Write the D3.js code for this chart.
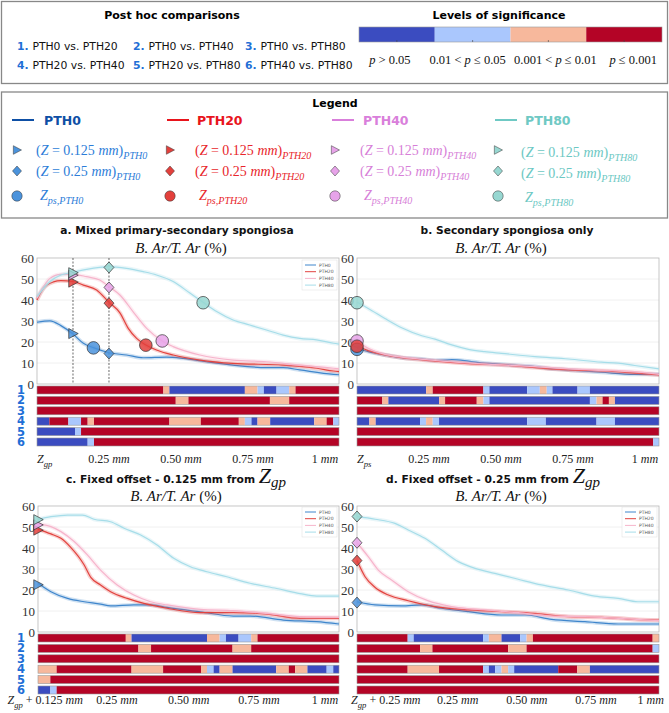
<!DOCTYPE html>
<html><head><meta charset="utf-8">
<script src="https://cdnjs.cloudflare.com/ajax/libs/d3/7.8.5/d3.min.js"></script>
<style>body{margin:0;background:#fff} text{white-space:pre}</style>
</head><body>
<script>
// groups and colours
var groups = ["PTH0","PTH20","PTH40","PTH80"];
var lineColors = ["#3f86cc","#e2433f","#f6b4cb","#a6dde9"];
var markColors = ["#4b93dc","#e3403c","#e7a3e9","#97d7d1"];
var keyColors = ["#0e4fa5","#e8141c","#d97fdb","#6fc9c4"];
var keyTextColors = ["#2c7dd8","#e8262b","#d77fd8","#6cc8c3"];

var comparisons = ["PTH0 vs. PTH20","PTH0 vs. PTH40","PTH0 vs. PTH80","PTH20 vs. PTH40","PTH20 vs. PTH80","PTH40 vs. PTH80"];
var sigLabels = ["p > 0.05","0.01 < p ≤ 0.05","0.001 < p ≤ 0.01","p ≤ 0.001"];
var sigColors = ["#3b4cc0","#aac7fd","#f7b89c","#b40426"];
var yTicks = [0,10,20,30,40,50,60];

// x tick values (mm) and labels per panel
var ticksA = [0,0.25,0.5,0.75,1], labelsA = ["Z_gp","0.25 mm","0.50 mm","0.75 mm","1 mm"];
var ticksB = [0,0.25,0.5,0.75,1], labelsB = ["Z_ps","0.25 mm","0.50 mm","0.75 mm","1 mm"];
var ticksC = [0.025,0.275,0.525,0.77,1.0], labelsC = ["Z_gp + 0.125 mm","0.25 mm","0.50 mm","0.75 mm","1 mm"];
var ticksD = [0.1,0.35,0.59,0.83,1.02], labelsD = ["Z_gp + 0.25 mm","0.25 mm","0.50 mm","0.75 mm","1 mm"];

// B.Ar/T.Ar (%) vs depth (mm)
var a_PTH0 = [[0,29.4],[0.045,30.1],[0.083,27.8],[0.125,23.8],[0.161,19.4],[0.196,17.3],[0.25,14.9],[0.311,13.8],[0.369,12.5],[0.45,12.8],[0.508,12.2],[0.589,10.6],[0.681,9.0],[0.797,7.8],[0.855,7.8],[0.913,6.7],[1.03,4.6],[1.049,4.4]];
var a_PTH20 = [[0,40],[0.023,45.6],[0.057,48.6],[0.083,49.2],[0.125,48.8],[0.161,47.1],[0.207,44.8],[0.25,38.9],[0.288,33.9],[0.317,26.5],[0.346,21.7],[0.378,18.6],[0.415,16.2],[0.473,13.8],[0.566,11.4],[0.681,9.8],[0.855,9.0],[0.971,7.5],[1.03,6.2],[1.049,5.9]];
var a_PTH40 = [[0,40.8],[0.045,50.3],[0.083,52.2],[0.125,52.2],[0.172,51.1],[0.218,49.5],[0.25,46.4],[0.288,42.4],[0.334,34.4],[0.381,26.5],[0.435,20.5],[0.473,17.8],[0.566,13.8],[0.681,11.4],[0.797,10.6],[0.913,9.0],[1.03,7.5],[1.049,7.2]];
var a_PTH80 = [[0,41.6],[0.045,48.8],[0.083,51.9],[0.125,53.2],[0.172,54.6],[0.25,55.9],[0.311,55.1],[0.369,53.5],[0.415,51.9],[0.473,48.8],[0.531,43.3],[0.577,38.9],[0.624,34.5],[0.681,30.5],[0.739,28.1],[0.797,25.7],[0.855,23.3],[0.913,21.7],[0.971,21.0],[1.03,19.4],[1.049,19.0]];

var b_PTH0 = [[0,16.9],[0.039,15.4],[0.097,13.8],[0.155,12.5],[0.225,11.9],[0.271,11.2],[0.329,11.6],[0.387,10.9],[0.444,9.9],[0.502,9.4],[0.56,8.8],[0.618,8.3],[0.676,7.2],[0.734,6.7],[0.849,5.6],[0.965,4.6],[1.049,4.6]];
var b_PTH20 = [[0,18.1],[0.039,15.9],[0.097,13.8],[0.155,12.5],[0.271,10.9],[0.387,9.7],[0.502,9.1],[0.618,7.8],[0.734,6.7],[0.849,6.2],[0.965,5.2],[1.049,4.3]];
var b_PTH40 = [[0,20.5],[0.039,17.0],[0.097,14.1],[0.155,12.8],[0.271,11.2],[0.387,10.0],[0.502,9.1],[0.618,8.3],[0.734,7.2],[0.849,6.5],[0.965,5.9],[1.049,4.6]];
var b_PTH80 = [[0,38.9],[0.039,36.0],[0.097,31.2],[0.155,26.8],[0.225,23.0],[0.271,21.4],[0.329,18.6],[0.387,16.5],[0.444,15.4],[0.502,14.6],[0.618,13.0],[0.734,11.9],[0.849,10.4],[0.907,9.9],[0.965,8.8],[1.049,7.2]];

var c_PTH0 = [[0,23.2],[0.045,19.2],[0.103,16.0],[0.161,14.4],[0.218,13.3],[0.253,12.4],[0.334,12.9],[0.392,12.9],[0.45,11.7],[0.566,9.6],[0.681,7.6],[0.739,7.6],[0.855,5.7],[0.971,4.9],[1.049,3.8]];
var c_PTH20 = [[0,48.9],[0.045,46.7],[0.08,44.6],[0.114,40.3],[0.161,31.9],[0.184,26.0],[0.218,22.4],[0.253,19.2],[0.311,16.0],[0.369,13.6],[0.45,11.3],[0.566,9.2],[0.681,9.2],[0.797,8.5],[0.913,6.5],[1.049,6.5]];
var c_PTH40 = [[0,51.4],[0.045,50.2],[0.08,47.8],[0.126,43.1],[0.172,36.7],[0.218,29.5],[0.276,22.4],[0.334,17.6],[0.392,14.4],[0.45,12.9],[0.566,10.8],[0.681,10.2],[0.797,8.9],[0.913,7.3],[1.049,7.0]];
var c_PTH80 = [[0,53.7],[0.045,54.9],[0.103,55.7],[0.155,55.7],[0.195,53.7],[0.253,52.5],[0.3,49.4],[0.358,46.2],[0.415,41.4],[0.473,35.1],[0.531,31.1],[0.589,28.7],[0.658,26.3],[0.739,23.2],[0.832,20.7],[0.913,18.3],[0.971,17.1],[1.049,17.1]];

var d_PTH0 = [[0,14.4],[0.063,12.9],[0.155,12.4],[0.225,12.9],[0.294,11.3],[0.387,9.7],[0.502,8.1],[0.583,8.1],[0.676,6.0],[0.792,4.9],[0.907,3.8],[1.049,3.8]];
var d_PTH20 = [[0,34],[0.028,26.3],[0.063,21.2],[0.109,17.6],[0.178,14.9],[0.271,12.1],[0.387,10.5],[0.502,9.7],[0.618,8.9],[0.734,7.3],[0.849,7.0],[0.965,6.0],[1.049,5.7]];
var d_PTH40 = [[0,42.5],[0.039,35.9],[0.074,29.5],[0.12,24.8],[0.178,19.2],[0.248,14.8],[0.329,12.1],[0.444,10.5],[0.56,9.2],[0.676,7.6],[0.792,7.3],[0.907,6.5],[1.049,5.4]];
var d_PTH80 = [[0,54.9],[0.063,53.7],[0.132,51.7],[0.178,48.6],[0.236,44.6],[0.294,39.0],[0.352,33.5],[0.41,30.3],[0.479,27.9],[0.56,25.1],[0.641,22.4],[0.734,20.0],[0.826,17.1],[0.907,16.0],[0.976,14.4],[1.049,14.4]];

// markers: [x mm, y %] per group
var a_tri = [[0.125,24],[0.125,48.5],[0.125,51.8],[0.125,53]];
var a_dia = [[0.25,14.5],[0.25,38.5],[0.25,46],[0.25,55.5]];
var a_circ = [[0.196,17.2],[0.378,18.5],[0.435,20.5],[0.577,38.7]];
var b_circ = [[0,16.5],[0,18],[0,20.5],[0,38.7]];
var c_tri = [[0,22.5],[0,48.5],[0,51],[0,53.5]];
var d_dia = [[0,14],[0,34],[0,42.5],[0,55]];

// significance rows: [start mm, level]
var sigA = [
 [[0,3],[0.439,2],[0.460,0],[0.722,2],[0.766,1],[0.788,0],[0.832,1],[0.876,2],[0.898,3]],
 [[0,3],[0.482,2],[0.526,3],[0.809,2],[0.876,3]],
 [[0,3]],
 [[0,0],[0.043,3],[0.109,1],[0.153,3],[0.176,2],[0.198,3],[0.460,2],[0.569,3],[0.701,2],[0.722,1],[0.745,0],[0.766,2],[0.810,0],[0.963,2],[1.006,3],[1.029,1]],
 [[0,0],[0.132,1],[0.153,3]],
 [[0,0],[0.176,1],[0.198,3]]
];
var sigB = [
 [[0,0],[0.240,2],[0.263,3],[0.439,1],[0.460,0],[0.591,1],[0.635,2],[0.659,1],[0.679,0],[0.766,1],[0.809,0]],
 [[0,3],[0.088,2],[0.109,0],[0.285,2],[0.306,3],[0.416,2],[0.439,1],[0.460,0],[0.809,1],[0.832,2],[0.853,3],[0.875,2],[0.896,0]],
 [[0,3]],
 [[0,0],[0.043,2],[0.065,0],[0.219,1],[0.240,2],[0.263,1],[0.285,0],[0.591,1],[0.656,0],[0.832,1],[0.896,0]],
 [[0,3]],
 [[0,3],[1.029,1]]
];
var sigC = [
 [[0,3],[0.306,2],[0.326,0],[0.589,2],[0.633,1],[0.655,0],[0.699,1],[0.743,2],[0.765,3]],
 [[0,3],[0.350,2],[0.394,3],[0.678,2],[0.743,3]],
 [[0,3]],
 [[0,2],[0.065,3],[0.326,2],[0.436,3],[0.568,2],[0.589,1],[0.612,0],[0.633,2],[0.678,0],[0.830,2],[0.874,3],[0.896,2],[0.939,0],[1.006,1],[1.029,0]],
 [[0,2],[0.043,3]],
 [[0,0],[0.043,1],[0.065,3]]
];
var sigD = [
 [[0,3],[0.176,1],[0.197,0],[0.438,1],[0.458,2],[0.502,0],[0.567,1],[0.589,2],[0.611,3],[1.027,2]],
 [[0,3],[0.219,2],[0.262,3],[0.525,2],[0.589,3],[1.027,1]],
 [[0,3]],
 [[0,3],[0.176,2],[0.285,3],[0.438,1],[0.458,0],[0.480,1],[0.502,2],[0.525,1],[0.546,0],[0.699,3],[0.765,2],[0.809,0]],
 [[0,3]],
 [[0,3]]
];

var SANS = "'DejaVu Sans', Verdana, sans-serif";
var SERIF = "'Liberation Serif', 'Times New Roman', serif";
var svg = d3.select("body").append("svg").attr("width",669).attr("height",713);

// text with italic / subscript pieces
function mathText(g, parts, size, x, y, anchor, color) {
  var t = g.append("text").attr("x",x).attr("y",y).attr("font-family",SERIF)
    .attr("font-size",size).attr("text-anchor",anchor||"start").attr("fill",color||"#222");
  var shift = 0;
  parts.forEach(function(p){
    var sp = t.append("tspan").text(p[0]);
    var target = p[1]=="s" ? size*0.3 : 0;
    if (target != shift) sp.attr("dy", target-shift);
    shift = target;
    if (p[1] != "n") sp.attr("font-style","italic");
    if (p[1] == "s") sp.attr("font-size", size*0.72);
  });
  return t;
}
function parseMath(str) {
  var parts = [];
  str.split(" ").forEach(function(tok,i){
    var s = i>0 ? " " : "";
    var m = tok.match(/^Z_(.+)$/);
    if (m) { parts.push([s+"Z","i"]); parts.push([m[1],"s"]); }
    else if (tok=="mm" || tok=="p") parts.push([s+tok,"i"]);
    else parts.push([s+tok,"n"]);
  });
  return parts;
}

// marker shapes; s = half size in px
function marker(g, type, x, y, s, fill) {
  var d;
  if (type=="tri") d = "M"+(-s*0.85)+","+(-s)+"L"+(s*1.05)+",0L"+(-s*0.85)+","+s+"Z";
  else if (type=="dia") d = "M0,"+(-s)+"L"+(s*0.9)+",0L0,"+s+"L"+(-s*0.9)+",0Z";
  else d = d3.arc()({innerRadius:0,outerRadius:s,startAngle:0,endAngle:2*Math.PI});
  return g.append("path").attr("d",d).attr("transform","translate("+x+","+y+")")
    .attr("fill",fill).attr("stroke","#333").attr("stroke-width",0.7);
}

// ---------- top box: comparisons + significance scale
svg.append("rect").attr("x",1.5).attr("y",1.5).attr("width",666).attr("height",82)
  .attr("fill","none").attr("stroke","#888").attr("stroke-width",1.3);
svg.append("text").attr("x",172).attr("y",19).attr("text-anchor","middle").attr("font-family",SANS)
  .attr("font-weight","bold").attr("font-size",11).text("Post hoc comparisons");
var compX = [17,133,245];
comparisons.forEach(function(c,i){
  var x = compX[i%3], y = i<3 ? 49.5 : 68.5;
  var t = svg.append("text").attr("x",x).attr("y",y).attr("font-family",SANS).attr("font-size",10.8);
  t.append("tspan").attr("font-weight","bold").attr("fill","#1f6fd6").text((i+1)+". ");
  t.append("tspan").attr("fill","#111").text(c);
});
svg.append("text").attr("x",499).attr("y",19).attr("text-anchor","middle").attr("font-family",SANS)
  .attr("font-weight","bold").attr("font-size",11).text("Levels of significance");
var cb = d3.scaleBand().domain(sigLabels).range([359,662]);
svg.selectAll(".cb").data(sigLabels).enter().append("rect")
  .attr("x",function(d){return cb(d);}).attr("y",27).attr("width",cb.bandwidth()).attr("height",15)
  .attr("fill",function(d,i){return sigColors[i];});
svg.append("rect").attr("x",359).attr("y",27).attr("width",303).attr("height",15)
  .attr("fill","none").attr("stroke","#999").attr("stroke-width",0.6);
var cbShift = [-7,-5,7,9];
sigLabels.forEach(function(s,i){
  var cx = cb(s)+cb.bandwidth()/2;
  svg.append("line").attr("x1",cx).attr("x2",cx).attr("y1",40).attr("y2",42).attr("stroke","#444").attr("stroke-width",0.6);
  mathText(svg, parseMath(s), 12.5, cx+cbShift[i], 64, "middle", "#111");
});

// ---------- legend box
svg.append("rect").attr("x",1.5).attr("y",92).attr("width",666).attr("height",126)
  .attr("fill","none").attr("stroke","#888").attr("stroke-width",1.3);
svg.append("text").attr("x",335).attr("y",107).attr("text-anchor","middle").attr("font-family",SANS)
  .attr("font-weight","bold").attr("font-size",11).text("Legend");
var keyLineX = [12,167,332,495], keyTitleX = [44,197,363,525];
var keyMarkX = [17,170,335,498], keyTextX = [36,195,360,521];
groups.forEach(function(g,i){
  svg.append("line").attr("x1",keyLineX[i]).attr("x2",keyLineX[i]+22).attr("y1",120).attr("y2",120)
    .attr("stroke",keyColors[i]).attr("stroke-width",2);
  svg.append("text").attr("x",keyTitleX[i]).attr("y",124.5).attr("font-family",SANS).attr("font-weight","bold")
    .attr("font-size",12.5).attr("fill",keyColors[i]).text(g);
  var dy = i==3 ? 2 : 0;
  marker(svg,"tri",keyMarkX[i],150,4.3,markColors[i]).attr("stroke-width",0.5);
  marker(svg,"dia",keyMarkX[i],171,5,markColors[i]).attr("stroke-width",0.5);
  marker(svg,"circ",keyMarkX[i],196,5.2,markColors[i]).attr("stroke-width",0.5);
  mathText(svg,[["(","n"],["Z","i"],[" = 0.125 ","n"],["mm","i"],[")","n"],[g,"s"]],14,keyTextX[i],154.5+dy,"start",keyTextColors[i]);
  mathText(svg,[["(","n"],["Z","i"],[" = 0.25 ","n"],["mm","i"],[")","n"],[g,"s"]],14,keyTextX[i],176+dy,"start",keyTextColors[i]);
  mathText(svg,[["Z","i"],["ps,"+g,"s"]],14,keyTextX[i]+4,200+dy,"start",keyTextColors[i]);
});

// ---------- panels
var panels = [
 {x0:37, x1:339, y0:258, y1:384, bar0:386, labY:463, titleX:177, titleY:234, subX:181, subY:253,
  title:"a. Mixed primary-secondary spongiosa", series:[a_PTH0,a_PTH20,a_PTH40,a_PTH80],
  marks:[["tri",a_tri],["dia",a_dia],["circ",a_circ]], sig:sigA, ticks:ticksA, labels:labelsA, first:"start",
  legend:[302,260], dashes:[0.125,0.25], nums:true},
 {x0:357, x1:659, y0:258, y1:384, bar0:386, labY:463, titleX:507, titleY:234, subX:501, subY:253,
  title:"b. Secondary spongiosa only", series:[b_PTH0,b_PTH20,b_PTH40,b_PTH80],
  marks:[["circ",[b_circ[3],b_circ[2],b_circ[0],b_circ[1]],[3,2,0,1]]], sig:sigB, ticks:ticksB, labels:labelsB, first:"start",
  legend:null, dashes:[], nums:false},
 {x0:38, x1:339, y0:506, y1:632, bar0:634, labY:704, titleX:176, titleY:483, subX:176, subY:501,
  title:"c. Fixed offset - 0.125 mm from ", series:[c_PTH0,c_PTH20,c_PTH40,c_PTH80],
  marks:[["tri",c_tri]], sig:sigC, ticks:ticksC, labels:labelsC, first:"middle",
  legend:[302,507], dashes:[], nums:true},
 {x0:357, x1:659, y0:506, y1:632, bar0:634, labY:704, titleX:493, titleY:483, subX:501, subY:501,
  title:"d. Fixed offset - 0.25 mm from ", series:[d_PTH0,d_PTH20,d_PTH40,d_PTH80],
  marks:[["dia",d_dia]], sig:sigD, ticks:ticksD, labels:labelsD, first:"middle",
  legend:[622,507], dashes:[], nums:false}
];

panels.forEach(function(p){
  var g = svg.append("g");
  var x = d3.scaleLinear().domain([0,1.049]).range([p.x0,p.x1]);
  var y = d3.scaleLinear().domain([0,60]).range([p.y1,p.y0]);

  // titles
  var tt = g.append("text").attr("x",p.titleX).attr("y",p.titleY).attr("text-anchor","middle")
    .attr("font-family",SANS).attr("font-weight","bold").attr("font-size",10.7).attr("fill","#111");
  tt.append("tspan").text(p.title);
  if (p.title.indexOf("from") > 0) {
    tt.append("tspan").attr("font-family",SERIF).attr("font-style","italic").attr("font-weight","normal")
      .attr("font-size",22).text("Z");
    tt.append("tspan").attr("font-family",SERIF).attr("font-style","italic").attr("font-weight","normal")
      .attr("font-size",15).attr("dy",4).text("gp");
  }
  mathText(g,[["B. Ar/T. Ar ","i"],["(%)","n"]],15,p.subX,p.subY,"middle","#111");

  // grid + frame
  g.selectAll(".grid").data(yTicks.slice(1,6)).enter().append("line")
    .attr("x1",p.x0).attr("x2",p.x1).attr("y1",y).attr("y2",y).attr("stroke","#ececec").attr("stroke-width",0.8);
  g.append("rect").attr("x",p.x0).attr("y",p.y0).attr("width",p.x1-p.x0).attr("height",p.y1-p.y0)
    .attr("fill","none").attr("stroke","#b8b8b8").attr("stroke-width",0.8);
  var ax = g.append("g").attr("transform","translate("+p.x0+",0)")
    .call(d3.axisLeft(y).tickValues(yTicks).tickSize(0).tickPadding(3));
  ax.select(".domain").remove();
  ax.selectAll("text").attr("font-family",SERIF).attr("font-size",13).attr("fill","#333");

  // dashed reference depths
  p.dashes.forEach(function(d){
    g.append("line").attr("x1",x(d)).attr("x2",x(d)).attr("y1",p.y0).attr("y2",p.y1)
      .attr("stroke","#444").attr("stroke-width",0.8).attr("stroke-dasharray","2,1.5");
  });

  // curves with light band
  var line = d3.line().x(function(d){return x(d[0]);}).y(function(d){return y(d[1]);}).curve(d3.curveMonotoneX);
  p.series.forEach(function(s,i){
    g.append("path").attr("d",line(s)).attr("fill","none").attr("stroke",lineColors[i])
      .attr("stroke-width",4).attr("stroke-opacity",0.25);
    g.append("path").attr("d",line(s)).attr("fill","none").attr("stroke",lineColors[i])
      .attr("stroke-width",1.2);
  });

  // small legend
  if (p.legend) {
    var lx = p.legend[0], ly = p.legend[1];
    g.append("rect").attr("x",lx).attr("y",ly).attr("width",35).attr("height",30)
      .attr("fill","#fff").attr("fill-opacity",0.85).attr("stroke","#ddd").attr("stroke-width",0.5);
    groups.forEach(function(gr,i){
      var yy = ly+5+i*6.7;
      g.append("line").attr("x1",lx+3).attr("x2",lx+14).attr("y1",yy).attr("y2",yy)
        .attr("stroke",lineColors[i]).attr("stroke-width",1);
      g.append("text").attr("x",lx+17).attr("y",yy+1.6).attr("font-family",SANS).attr("font-size",4.5)
        .attr("fill","#555").text(gr);
    });
  }

  // markers
  p.marks.forEach(function(m){
    var order = m[2] || [0,1,2,3];
    m[1].forEach(function(pt,k){
      var gi = order[k];
      var sz = m[0]=="tri" ? 5 : m[0]=="dia" ? 5.5 : 6.3;
      marker(g,m[0],x(pt[0]),y(pt[1]),sz,markColors[gi]).attr("fill-opacity",0.85);
    });
  });

  // significance bars
  p.sig.forEach(function(row,r){
    var top = p.bar0 + r*10.4;
    row.forEach(function(seg,k){
      var end = k<row.length-1 ? row[k+1][0] : 1.049;
      g.append("rect").attr("x",x(seg[0])).attr("y",top).attr("width",x(end)-x(seg[0])).attr("height",8)
        .attr("fill",sigColors[seg[1]]);
    });
    g.append("rect").attr("x",p.x0).attr("y",top).attr("width",p.x1-p.x0).attr("height",8)
      .attr("fill","none").attr("stroke","#999").attr("stroke-width",0.6);
    if (p.nums) {
      g.append("text").attr("x",21).attr("y",top+8).attr("text-anchor","middle").attr("font-family",SANS)
        .attr("font-weight","bold").attr("font-size",11.5).attr("fill","#1f6fd6").text(r+1);
    }
  });

  // x tick labels
  p.ticks.forEach(function(t,k){
    var anchor = k==0 ? p.first : "middle";
    mathText(g, parseMath(p.labels[k]), 12, x(t), p.labY, anchor, "#222");
  });
});
</script>
</body></html>
